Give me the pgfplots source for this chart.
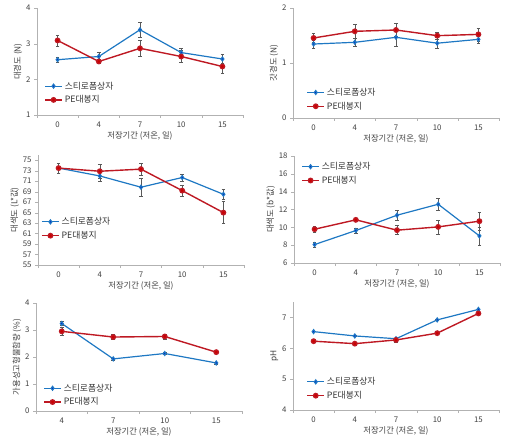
\documentclass[border=0pt]{standalone}
\usepackage{fontspec}
\setmainfont{Noto Sans CJK KR}
\usepackage{pgfplots}
\pgfplotsset{compat=1.18}
\definecolor{cblue}{RGB}{30,120,195}
\definecolor{cred}{RGB}{190,25,35}
\pgfplotsset{
  panel/.style={
    scale only axis, width=206pt, height=108pt,
    axis x line*=bottom, axis y line*=left,
    axis line style={gray!60},
    xmin=-0.5, xmax=4.5, xtick={0,...,4}, xticklabels={0,4,7,10,15},
    major x tick style={draw=none},
    minor xtick={-0.5,0.5,...,4.5},
    minor tick length=3pt, major tick length=3pt,
    tick align=outside, tick style={gray!60},
    every tick label/.append style={font=\fontsize{7.8}{9}\selectfont, text=black!75},
    label style={font=\fontsize{8.3}{10}\selectfont, text=black!75},
    xlabel={저장기간 (저온, 일)},
    xlabel style={yshift=3pt},
    ylabel style={yshift=-3pt},
    legend style={draw=none, fill=none, font=\fontsize{8.8}{10}\selectfont, text=black!80, anchor=north west, row sep=1pt},
    legend cell align=left,
    /pgf/number format/assume math mode=true,
  },
  bl/.style={color=cblue, line width=1.2pt, mark=diamond*, mark size=1.9pt,
    error bars/.cd, y dir=both, y explicit,
    error bar style={black!65, line width=0.5pt},
    error mark options={rotate=90, mark size=1.8pt, black!65, line width=0.5pt}},
  rd/.style={color=cred, line width=1.4pt, mark=*, mark size=2.2pt,
    error bars/.cd, y dir=both, y explicit,
    error bar style={black!65, line width=0.5pt},
    error mark options={rotate=90, mark size=1.8pt, black!65, line width=0.5pt}},
}
\begin{document}
\begin{tikzpicture}
\path[use as bounding box] (0,0) rectangle (510pt,442pt);

% Panel 1
\begin{axis}[panel, at={(37pt,434pt)}, anchor=north west, height=107pt,
  ymin=1, ymax=4, ytick={1,2,3,4}, ylabel={대경도 (N)},
  legend style={at={(0.02,0.35)}}]
\addplot+[bl] coordinates {(0,2.55)+-(0,0.07) (1,2.64)+-(0,0.13) (2,3.39)+-(0,0.2) (3,2.75)+-(0,0.13) (4,2.57)+-(0,0.12)};
\addplot+[rd] coordinates {(0,3.09)+-(0,0.15) (1,2.50)+-(0,0.06) (2,2.87)+-(0,0.22) (3,2.64)+-(0,0.17) (4,2.36)+-(0,0.2)};
\legend{스티로폼상자, PE대봉지}
\end{axis}

% Panel 2
\begin{axis}[panel, at={(293pt,434pt)}, anchor=north west, height=110pt,
  ymin=0, ymax=2, ytick={0,1,2}, ylabel={갓경도 (N)},
  legend style={at={(0.05,0.31)}}]
\addplot+[bl] coordinates {(0,1.345)+-(0,0.07) (1,1.376)+-(0,0.07) (2,1.467)+-(0,0.17) (3,1.36)+-(0,0.1) (4,1.43)+-(0,0.08)};
\addplot+[rd] coordinates {(0,1.455)+-(0,0.08) (1,1.576)+-(0,0.12) (2,1.60)+-(0,0.12) (3,1.497)+-(0,0.07) (4,1.52)+-(0,0.12)};
\legend{스티로폼상자, PE대봉지}
\end{axis}

% Panel 3
\begin{axis}[panel, at={(38pt,287pt)}, anchor=north west, height=110pt,
  ymin=55, ymax=76, ytick={55,57,...,75}, ylabel={대색도 (L*값)},
  legend style={at={(0.0,0.47)}}]
\addplot+[bl] coordinates {(0,73.5)+-(0,1.0) (1,72.0)+-(0,1.0) (2,69.85)+-(0,1.8) (3,71.7)+-(0,0.7) (4,68.5)+-(0,1.0)};
\addplot+[rd] coordinates {(0,73.5)+-(0,1.0) (1,72.9)+-(0,1.3) (2,73.3)+-(0,1.2) (3,69.2)+-(0,1.1) (4,65.0)+-(0,2.1)};
\legend{스티로폼상자, PE대봉지}
\end{axis}

% Panel 4
\begin{axis}[panel, at={(294pt,286pt)}, anchor=north west, height=107pt,
  ymin=6, ymax=18, ytick={6,8,...,18}, ylabel={대색도 (b*값)},
  legend style={at={(0.02,0.98)}}]
\addplot+[bl] coordinates {(0,8.07)+-(0,0.3) (1,9.64)+-(0,0.3) (2,11.36)+-(0,0.6) (3,12.59)+-(0,0.7) (4,9.04)+-(0,1.0)};
\addplot+[rd] coordinates {(0,9.79)+-(0,0.3) (1,10.84)+-(0,0.2) (2,9.68)+-(0,0.5) (3,10.05)+-(0,0.8) (4,10.69)+-(0,1.0)};
\legend{스티로폼상자, PE대봉지}
\end{axis}

% Panel 5
\begin{axis}[panel, at={(36pt,139pt)}, anchor=north west, height=108pt,
  xmax=3.5, xtick={0,...,3}, xticklabels={4,7,10,15}, minor xtick={-0.5,0.5,...,3.5},
  ymin=0, ymax=4, ytick={0,1,2,3,4}, ylabel={가용성고형물함량 (\%)},
  legend style={at={(0.02,0.29)}}]
\addplot+[bl] coordinates {(0,3.24)+-(0,0.07) (1,1.93)+-(0,0.04) (2,2.13)+-(0,0.04) (3,1.78)+-(0,0.03)};
\addplot+[rd] coordinates {(0,2.95)+-(0,0.15) (1,2.74)+-(0,0.1) (2,2.76)+-(0,0.1) (3,2.18)+-(0,0.05)};
\legend{스티로폼상자, PE대봉지}
\end{axis}

% Panel 6
\begin{axis}[panel, at={(293pt,140pt)}, anchor=north west, height=108pt,
  ymin=4, ymax=7.5, ytick={4,5,6,7}, ylabel={pH},
  legend style={at={(0.05,0.34)}}]
\addplot+[bl] coordinates {(0,6.54)+-(0,0.02) (1,6.40)+-(0,0.02) (2,6.31)+-(0,0.03) (3,6.92)+-(0,0.02) (4,7.26)+-(0,0.02)};
\addplot+[rd] coordinates {(0,6.23)+-(0,0.02) (1,6.15)+-(0,0.02) (2,6.27)+-(0,0.06) (3,6.49)+-(0,0.02) (4,7.13)+-(0,0.02)};
\legend{스티로폼상자, PE대봉지}
\end{axis}
\end{tikzpicture}
\end{document}
